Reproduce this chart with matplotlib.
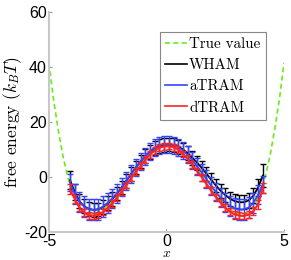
import numpy as np
import matplotlib
matplotlib.use('Agg')
from matplotlib import pyplot as plt
from matplotlib.lines import Line2D

plt.rcParams['font.family'] = ['Liberation Sans', 'DejaVu Sans']
plt.rcParams['mathtext.fontset'] = 'cm'
plt.rcParams['axes.unicode_minus'] = False

# true free energy profile
x_true = [-5.0, -4.8, -4.6, -4.4, -4.2, -4.0, -3.8, -3.6, -3.4, -3.2, -3.0, -2.6, -2.2, -1.8,
          -1.4, -1.0, -0.6, -0.2, 0.0, 0.2, 0.6, 1.0, 1.4, 1.8, 2.2, 2.6, 3.0, 3.2, 3.4,
          3.6, 3.8, 4.0, 4.2, 4.4, 4.6, 4.8, 5.0]
f_true = [41.5, 28, 17, 7.5, 0, -5.5, -9.5, -11.8, -13, -13.5, -13.3, -11.4, -7.9, -3.4,
          1.5, 6.0, 9.4, 11.3, 11.5, 11.3, 9.4, 6.0, 1.5, -3.4, -7.9, -11.4, -13.3, -13.5, -13,
          -11.8, -9.5, -5.5, 0, 7.5, 17, 28, 41.5]

# estimated profiles (bin centres)
x = [-4.1, -3.9, -3.7, -3.5, -3.3, -3.1, -2.9, -2.7, -2.5, -2.3, -2.1, -1.9, -1.7, -1.5,
     -1.3, -1.1, -0.9, -0.7, -0.5, -0.3, -0.1, 0.1, 0.3, 0.5, 0.7, 0.9, 1.1, 1.3, 1.5,
     1.7, 1.9, 2.1, 2.3, 2.5, 2.7, 2.9, 3.1, 3.3, 3.5, 3.7, 3.9, 4.1]

wham = [-1.2, -5.5, -8.8, -10.7, -11.6, -12.0, -11.8, -11.0, -9.6, -8.0, -6.0, -3.8, -1.4, 1.1,
        3.4, 5.6, 7.6, 9.2, 10.5, 11.3, 11.7, 11.8, 11.6, 11.0, 10.0, 8.7, 7.0, 5.2, 3.3,
        1.2, -1.0, -3.1, -5.0, -6.6, -7.9, -8.8, -9.2, -9.2, -8.5, -6.8, -3.8, 0.5]
wham_err = [3.2, 2.8, 2.6, 2.5, 2.5, 2.5, 2.5, 2.5, 2.5, 2.5, 2.5, 2.5, 2.5, 2.5,
            2.5, 2.5, 2.5, 2.5, 2.5, 2.5, 2.5, 2.5, 2.5, 2.5, 2.5, 2.5, 2.5, 2.5, 2.5,
            2.5, 2.5, 2.5, 2.5, 2.5, 2.5, 2.5, 2.5, 2.6, 2.7, 2.8, 3.2, 4.2]

atram = [-2.0, -6.2, -9.0, -10.8, -11.7, -12.0, -11.7, -10.8, -9.4, -7.8, -5.9, -3.8, -1.4, 1.0,
         3.4, 5.6, 7.6, 9.3, 10.6, 11.5, 11.9, 11.9, 11.6, 10.8, 9.6, 8.0, 6.1, 3.9, 1.6,
         -0.8, -3.2, -5.5, -7.6, -9.3, -10.6, -11.5, -11.9, -11.8, -11.1, -9.4, -6.5, -2.8]
atram_err = [3.2, 3.5, 3.7, 3.8, 3.8, 3.8, 3.8, 3.7, 3.6, 3.5, 3.4, 3.3, 3.2, 3.2,
             3.1, 3.1, 3.1, 3.1, 3.1, 3.1, 3.1, 3.1, 3.1, 3.1, 3.1, 3.1, 3.1, 3.1, 3.2,
             3.2, 3.3, 3.4, 3.5, 3.6, 3.7, 3.8, 3.8, 3.8, 3.8, 3.7, 3.5, 3.2]

dtram = [-4.5, -8.0, -11.2, -13.0, -14.0, -14.2, -13.8, -12.8, -11.3, -9.6, -7.4, -5.2, -2.9, -0.4,
         1.9, 4.1, 6.3, 8.2, 9.6, 10.6, 11.1, 11.2, 10.8, 10.0, 8.4, 6.6, 4.5, 2.2, -0.1,
         -2.6, -5.0, -7.3, -9.4, -11.2, -12.6, -13.6, -14.1, -14.2, -13.7, -12.4, -10.0, -4.0]
dtram_err = [1.8, 1.5, 1.3, 1.2, 1.2, 1.2, 1.2, 1.2, 1.2, 1.2, 1.2, 1.2, 1.2, 1.2,
             1.2, 1.2, 1.2, 1.2, 1.2, 1.2, 1.2, 1.2, 1.2, 1.2, 1.2, 1.2, 1.2, 1.2, 1.2,
             1.2, 1.2, 1.2, 1.2, 1.2, 1.2, 1.2, 1.2, 1.2, 1.2, 1.3, 1.5, 1.8]

green = '#66ee11'
blue = '#3344ff'
red = '#ff2222'

fig = plt.figure(figsize=(2.91, 2.6), dpi=100)
ax = fig.add_axes([0.168, 0.108, 0.808, 0.846])

ax.plot(x_true, f_true, '--', color=green, lw=1.2, dashes=(3, 2), zorder=1)
ax.errorbar(x, wham, yerr=wham_err, color='k', lw=1.3, elinewidth=1, capsize=2.5, zorder=2)
ax.errorbar(x, atram, yerr=atram_err, color=blue, lw=1.3, elinewidth=1, capsize=2.5, zorder=3)
ax.errorbar(x, dtram, yerr=dtram_err, color=red, lw=1.5, elinewidth=1, capsize=2.5, zorder=4)

ax.set_xlim(-5, 5)
ax.set_ylim(-20, 60)
ax.set_xticks([-5, 0, 5])
ax.set_yticks([-20, 0, 20, 40, 60])
for s in ['top', 'right']:
    ax.spines[s].set_visible(False)
for s in ['left', 'bottom']:
    ax.spines[s].set_color('#c8c8c8')
    ax.spines[s].set_linewidth(1.5)
ax.tick_params(direction='in', length=2, color='#999999', labelsize=11.5, pad=1.5)

ax.set_xlabel('$x$', fontsize=10, labelpad=-2.5)
ax.set_ylabel('free energy ($k_BT$)', family='cmr10', fontsize=12.5, labelpad=0)

handles = [Line2D([], [], ls='--', dashes=(3, 2), color=green, lw=1.2),
           Line2D([], [], color='k', lw=1.2),
           Line2D([], [], color=blue, lw=1.2),
           Line2D([], [], color=red, lw=1.2)]
leg = ax.legend(handles, ['True value', 'WHAM', 'aTRAM', 'dTRAM'],
                loc='upper left', bbox_to_anchor=(0.472, 0.909), borderaxespad=0,
                prop={'family': 'cmr10', 'size': 10.8}, handlelength=1.45, handletextpad=0.15,
                labelspacing=0.5, borderpad=0.35, fancybox=False, framealpha=1)
leg.get_frame().set_edgecolor('#888888')
leg.get_frame().set_linewidth(0.8)

plt.savefig('out.png', dpi=100)
